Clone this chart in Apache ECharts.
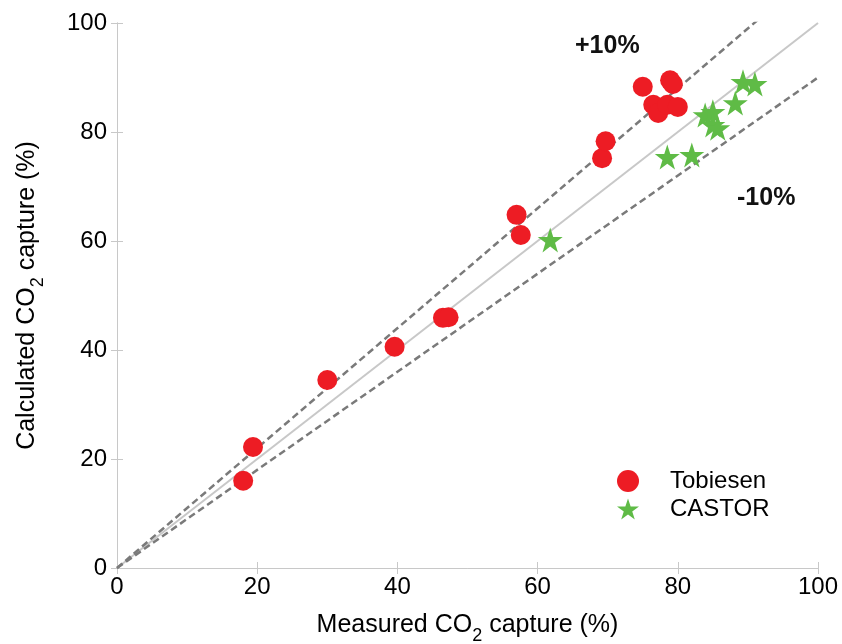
<!DOCTYPE html>
<html>
<head>
<meta charset="utf-8">
<script src="https://cdn.jsdelivr.net/npm/echarts@6/dist/echarts.min.js"></script>
<style>
  html, body { margin: 0; padding: 0; background: #fff; }
  #chart { width: 842px; height: 644px; }
</style>
</head>
<body>
<div id="chart"></div>
<script>
// Measured vs calculated CO2 capture (%)
const tobiesen = [
  [18.0, 16.0], [19.4, 22.2], [30.0, 34.5], [39.6, 40.6],
  [46.5, 45.9], [47.3, 46.0], [57.0, 64.8], [57.6, 61.1],
  [69.2, 75.2], [69.7, 78.3], [75.0, 88.3], [78.9, 89.5],
  [79.3, 88.8], [76.5, 85.0], [77.2, 83.5], [78.5, 85.0],
  [80.0, 84.6]
];
const castor = [
  [61.8, 60.2], [78.5, 75.4], [82.0, 75.8], [83.9, 83.1],
  [85.0, 83.7], [85.0, 81.3], [85.7, 80.7], [88.2, 85.3],
  [89.3, 89.2], [91.0, 88.8]
];
// parity line and ±10 % deviation bands
const parityLine = [[0, 0], [100, 100]];
const plusTenLine = [[0, 0], [100, 110]];
const minusTenLine = [[0, 0], [100, 90]];
const axisTicks = [0, 20, 40, 60, 80, 100];

const starPath = 'path://M50,2 L61.8,37.6 L99,37.6 L68.9,59.6 L80.3,95.2 L50,73.2 L19.7,95.2 L31.1,59.6 L1,37.6 L38.2,37.6 Z';
const font = '"Liberation Sans", Arial, sans-serif';
const frame = '#c8c8c8';

const baseAxis = {
  min: axisTicks[0], max: axisTicks[axisTicks.length - 1], interval: 20,
  splitLine: { show: false },
  axisLine: { show: true, lineStyle: { color: frame, width: 1 } },
  axisTick: { show: true, inside: true, length: 6, lineStyle: { color: frame } }
};

const chart = echarts.init(document.getElementById('chart'));
chart.setOption({
  animation: false,
  backgroundColor: '#fff',
  grid: { left: 117, right: 24, top: 23, bottom: 76, outerBoundsMode: 'none', containLabel: false },
  xAxis: [
    Object.assign({}, baseAxis, {
      type: 'value', position: 'bottom',
      axisLabel: { color: '#000', fontSize: 24, fontFamily: font, margin: 7 },
      name: 'Measured CO{s|2} capture (%)',
      nameLocation: 'middle', nameGap: 37,
      nameTextStyle: {
        color: '#000', fontSize: 25, fontFamily: font,
        rich: { s: { fontSize: 18, fontFamily: font, color: '#000', padding: [22, 0, 0, 0] } }
      }
    }),
    Object.assign({}, baseAxis, {
      type: 'value', position: 'top', axisLabel: { show: false }
    })
  ],
  yAxis: [
    Object.assign({}, baseAxis, {
      type: 'value', position: 'left',
      axisLabel: { color: '#000', fontSize: 24, fontFamily: font, margin: 10 },
      name: 'Calculated CO{s|2} capture (%)',
      nameLocation: 'middle', nameGap: 70,
      nameTextStyle: {
        color: '#000', fontSize: 25, fontFamily: font,
        rich: { s: { fontSize: 18, fontFamily: font, color: '#000', padding: [22, 0, 0, 0] } }
      }
    }),
    Object.assign({}, baseAxis, {
      type: 'value', position: 'right', axisLabel: { show: false }
    })
  ],
  legend: {
    data: ['Tobiesen', 'CASTOR'],
    orient: 'vertical', left: 612, top: 464,
    itemWidth: 22, itemHeight: 22, itemGap: 4,
    textStyle: { color: '#000', fontSize: 24, fontFamily: font, padding: [0, 0, 0, 26] }
  },
  graphic: [
    { type: 'text', left: 575, top: 34, style: { text: '+10%', font: 'bold 25px ' + font, fill: '#111' } },
    { type: 'text', left: 737, top: 186, style: { text: '-10%', font: 'bold 25px ' + font, fill: '#111' } }
  ],
  series: [
    {
      type: 'line', data: parityLine, symbol: 'none', silent: true, clip: true,
      lineStyle: { color: '#c8c8c8', width: 2 }, z: 1
    },
    {
      type: 'line', data: plusTenLine, symbol: 'none', silent: true, clip: true,
      lineStyle: { color: '#7a7a7a', width: 2.5, type: [7, 4] }, z: 1
    },
    {
      type: 'line', data: minusTenLine, symbol: 'none', silent: true, clip: true,
      lineStyle: { color: '#7a7a7a', width: 2.5, type: [7, 4] }, z: 1
    },
    {
      name: 'Tobiesen', type: 'scatter', data: tobiesen,
      symbol: 'circle', symbolSize: 20,
      itemStyle: { color: '#ed1c24', opacity: 1 }, z: 3
    },
    {
      name: 'CASTOR', type: 'scatter', data: castor,
      symbol: starPath, symbolSize: 25,
      itemStyle: { color: '#5fbb46', opacity: 1 }, z: 4
    }
  ]
});
</script>
</body>
</html>
